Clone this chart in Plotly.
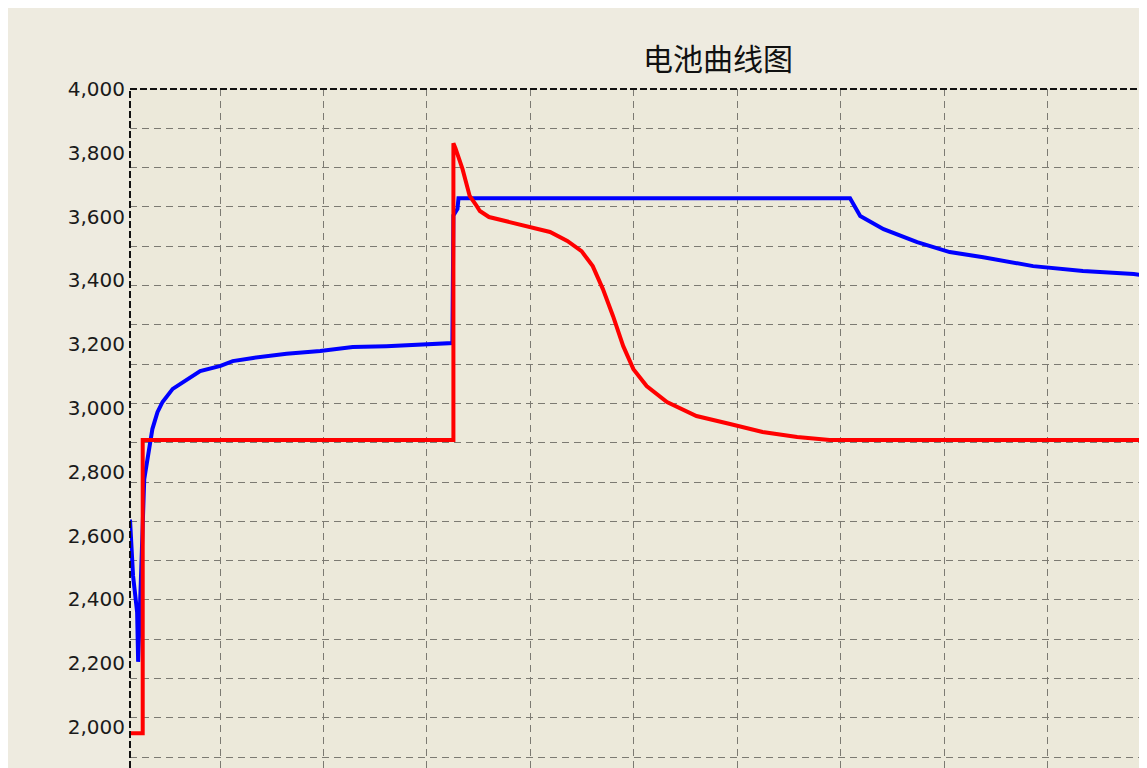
import plotly.graph_objects as go

# ---------------- data ----------------
title_text = "电池曲线图"

blue_x = [0, 3, 7, 8, 14, 20, 22, 27, 32, 42, 56, 69, 89, 101, 121, 154, 187, 219, 252, 288, 317,
          318, 322, 323, 708, 718, 741, 774, 806, 839, 888, 937, 987, 1000]
blue_y = [2650, 2474, 2360, 2204, 2777, 2903, 2934, 2987, 3019, 3060, 3091, 3116, 3132, 3147, 3157,
          3170, 3179, 3191, 3194, 3200, 3204,
          3604, 3625, 3658, 3658, 3602, 3561, 3520, 3489, 3473, 3445, 3430, 3420, 3414]

red_x = [0, 12.5, 12.5, 318, 318, 320, 327, 331, 334, 341, 344, 353, 374, 396, 413, 430, 444, 455,
         465, 475, 485, 495, 508, 528, 557, 590, 622, 656, 688, 1000]
red_y = [1980, 1980, 2900, 2900, 3830, 3815, 3749, 3696, 3665, 3633, 3618, 3599, 3583, 3567, 3552,
         3524, 3492, 3445, 3373, 3288, 3194, 3122, 3069, 3019, 2975, 2950, 2925, 2909, 2900, 2900]

y_tick_vals = [2000, 2200, 2400, 2600, 2800, 3000, 3200, 3400, 3600, 3800, 4000]

# ---------------- figure ----------------
fig = go.Figure()

fig.add_trace(go.Scatter(x=blue_x, y=blue_y, mode="lines",
                         line=dict(color="#0000FF", width=4), showlegend=False, hoverinfo="skip"))
fig.add_trace(go.Scatter(x=red_x, y=red_y, mode="lines",
                         line=dict(color="#FF0000", width=4), showlegend=False, hoverinfo="skip"))
# empty trace so the grid-only overlay axes exist
fig.add_trace(go.Scatter(x=[], y=[], xaxis="x2", yaxis="y2", showlegend=False, hoverinfo="skip"))

grid_col = "#7c7a72"
grid_dash = "7px,5px"

fig.update_layout(
    width=1139, height=760,
    margin=dict(l=122, r=0, t=81, b=0),
    paper_bgcolor="#EEEBE0",
    plot_bgcolor="#ECE9DA",
    title=dict(text=title_text, x=0.6234, xref="container", xanchor="center",
               y=0.9316, yref="container", yanchor="middle",
               font=dict(family="Noto Sans CJK SC", size=30, color="#111111")),
    xaxis=dict(range=[0, 1000], showgrid=False, zeroline=False, showticklabels=False,
               ticks="", showline=False, fixedrange=True),
    yaxis=dict(range=[1871, 4000.5], tickvals=y_tick_vals, tickformat=",d",
               showgrid=False, zeroline=False, ticks="", showline=False,
               ticklabelstandoff=4,
               tickfont=dict(family="DejaVu Sans", size=20, color="#1a1a1a")),
    xaxis2=dict(overlaying="x", range=[-0.8696, 8.957], tick0=0, dtick=1,
                showgrid=True, gridcolor=grid_col, griddash=grid_dash, gridwidth=1,
                showticklabels=False, ticks="", zeroline=False, showline=False),
    yaxis2=dict(overlaying="y", range=[-17.277, 0], tick0=0, dtick=1,
                showgrid=True, gridcolor=grid_col, griddash=grid_dash, gridwidth=1,
                showticklabels=False, ticks="", zeroline=False, showline=False),
    shapes=[
        dict(type="line", xref="paper", yref="paper", x0=0, x1=1, y0=1, y1=1,
             line=dict(color="#111111", width=2, dash="7px,3px"), layer="above"),
        dict(type="line", xref="paper", yref="paper", x0=0, x1=0, y0=0, y1=1,
             line=dict(color="#111111", width=2, dash="7px,3px"), layer="above"),
    ],
)

fig.write_html("out.html")
